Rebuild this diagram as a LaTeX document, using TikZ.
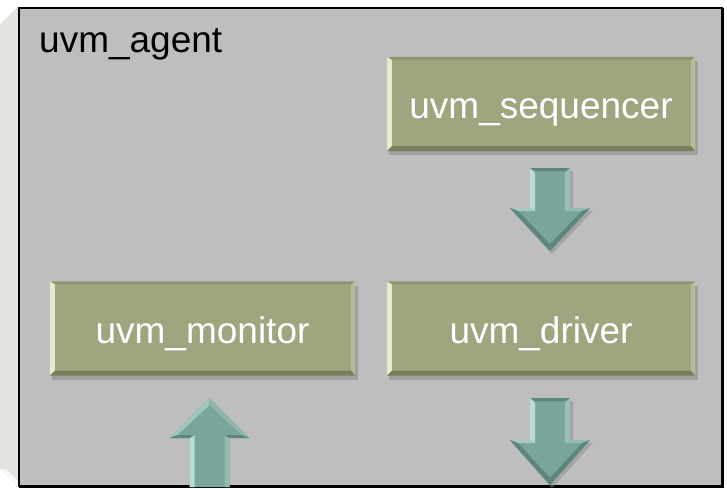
\documentclass[tikz,border=0pt]{standalone}
\usepackage{fontspec}
\setmainfont{Liberation Sans}
\usetikzlibrary{calc}

\definecolor{panelgray}{HTML}{BEBEBE}
\definecolor{sidegray}{HTML}{E3E4E0}
\definecolor{oliveface}{HTML}{A0A580}
\definecolor{olivelight}{HTML}{E6EACA}
\definecolor{olivetop}{HTML}{8F9470}
\definecolor{oliveright}{HTML}{B7BB96}
\definecolor{olivedeep}{HTML}{7A7E5C}
\definecolor{arrowteal}{HTML}{7AA59B}
\definecolor{arrowlight}{HTML}{B8DCD3}
\definecolor{arrowdark}{HTML}{5D877E}
\definecolor{boxshadow}{HTML}{8C8C8C}

% block arrow pointing down: centre x, shaft top, head base, tip
\newcommand\arrowdown[4]{%
  \fill[boxshadow,opacity=.5] (#1-18,#2+3) -- (#1+23,#2+3) -- (#1+23,#3+3) -- (#1+43,#3+3) -- (#1+2,#4+3) -- (#1-38,#3+3) -- (#1-18,#3+3) -- cycle;
  \fill[arrowteal] (#1-20,#2) -- (#1+20,#2) -- (#1+20,#3) -- (#1+40,#3) -- (#1,#4) -- (#1-40,#3) -- (#1-20,#3) -- cycle;
  \fill[arrowlight] (#1-20,#2) -- (#1-15,#2+5) -- (#1-15,#3+3) -- (#1-20,#3) -- cycle;
  \fill[arrowlight!50!arrowteal] (#1+20,#2) -- (#1+15,#2+5) -- (#1+15,#3+3) -- (#1+20,#3) -- cycle;
  \fill[arrowdark] (#1-20,#2) -- (#1+20,#2) -- (#1+15,#2+3) -- (#1-15,#2+3) -- cycle;
  \fill[arrowlight!70!arrowteal] (#1-40,#3) -- (#1-20,#3) -- (#1-15,#3+3) -- (#1-32,#3+3) -- cycle;
  \fill[arrowlight!40!arrowteal] (#1+40,#3) -- (#1+20,#3) -- (#1+15,#3+3) -- (#1+32,#3+3) -- cycle;
  \fill[arrowdark] (#1-40,#3) -- (#1,#4) -- (#1+40,#3) -- (#1+32,#3+3) -- (#1,#4-7) -- (#1-32,#3+3) -- cycle;
}
% block arrow pointing up: centre x, shaft bottom, head base, tip
\newcommand\arrowup[4]{%
  \fill[arrowteal] (#1-20,#2) -- (#1+20,#2) -- (#1+20,#3) -- (#1+40,#3) -- (#1,#4) -- (#1-40,#3) -- (#1-20,#3) -- cycle;
  \fill[arrowlight] (#1-20,#2) -- (#1-15,#2) -- (#1-15,#3-3) -- (#1-20,#3) -- cycle;
  \fill[arrowlight!40!arrowteal] (#1+20,#2) -- (#1+15,#2) -- (#1+15,#3-3) -- (#1+20,#3) -- cycle;
  \fill[arrowlight!60!arrowteal] (#1-40,#3) -- (#1,#4) -- (#1,#4+7) -- (#1-32,#3-3) -- cycle;
  \fill[arrowlight!30!arrowteal] (#1+40,#3) -- (#1,#4) -- (#1,#4+7) -- (#1+32,#3-3) -- cycle;
  \fill[arrowdark] (#1-40,#3) -- (#1-20,#3) -- (#1-15,#3-3) -- (#1-32,#3-3) -- cycle;
  \fill[arrowdark] (#1+40,#3) -- (#1+20,#3) -- (#1+15,#3-3) -- (#1+32,#3-3) -- cycle;
}

\begin{document}
\begin{tikzpicture}[x=1pt,y=-1pt,
  unitbox/.style={fill=oliveface, inner sep=0pt, minimum height=94pt,
    text height=42pt, text depth=12pt,
    text=white, font=\fontsize{37}{42}\selectfont},
  agentlabel/.style={font=\fontsize{37}{42}\selectfont, text=black, inner sep=0pt}]
\useasboundingbox (0,0) rectangle (727,489);

% side bevel of the agent panel
\fill[sidegray] (0,25) -- (18,7) -- (18,487) -- (0,469) -- cycle;
\fill[white!70!sidegray] (0,469) -- (6,469) -- (18,481) -- (18,487) -- cycle;

% agent panel
\draw[line width=2pt, fill=panelgray] (19,8) rectangle (722,486);
\draw[line width=1.5pt] (723.5,8) -- (723.5,487.5) -- (19,487.5);

\node[agentlabel, anchor=base west] (agent) at (39,53) {uvm\_agent};

% component boxes: drop shadows first
\foreach \cx/\cy/\w in {541/104/308, 541/328.5/308, 202.5/328.5/305}{
  \fill[boxshadow,opacity=.6] (\cx-\w/2+2,\cy-47+4) rectangle (\cx+\w/2+3,\cy+47+4);
}

\node[unitbox, minimum width=308pt] (seq) at (541,104) {uvm\_sequencer};
\node[unitbox, minimum width=308pt] (drv) at (541,328.5) {uvm\_driver};
\node[unitbox, minimum width=305pt] (mon) at (202.5,328.5) {uvm\_monitor};

% bevelled edges of the component boxes
\foreach \n in {seq,drv,mon}{
  \fill[olivetop] (\n.north west) -- (\n.north east) -- ($(\n.north east)+(-4,3)$) -- ($(\n.north west)+(5,3)$) -- cycle;
  \fill[olivelight] (\n.north west) -- ($(\n.north west)+(5,3)$) -- ($(\n.south west)+(5,-5)$) -- (\n.south west) -- cycle;
  \fill[oliveright] (\n.north east) -- ($(\n.north east)+(-4,3)$) -- ($(\n.south east)+(-4,-5)$) -- (\n.south east) -- cycle;
  \fill[olivedeep] (\n.south west) -- ($(\n.south west)+(5,-5)$) -- ($(\n.south east)+(-4,-5)$) -- (\n.south east) -- cycle;
}

% flow arrows
\arrowdown{550}{168}{208}{251}
\arrowdown{550}{398}{440}{485}
\arrowup{209.5}{487}{438}{398}
\end{tikzpicture}
\end{document}
